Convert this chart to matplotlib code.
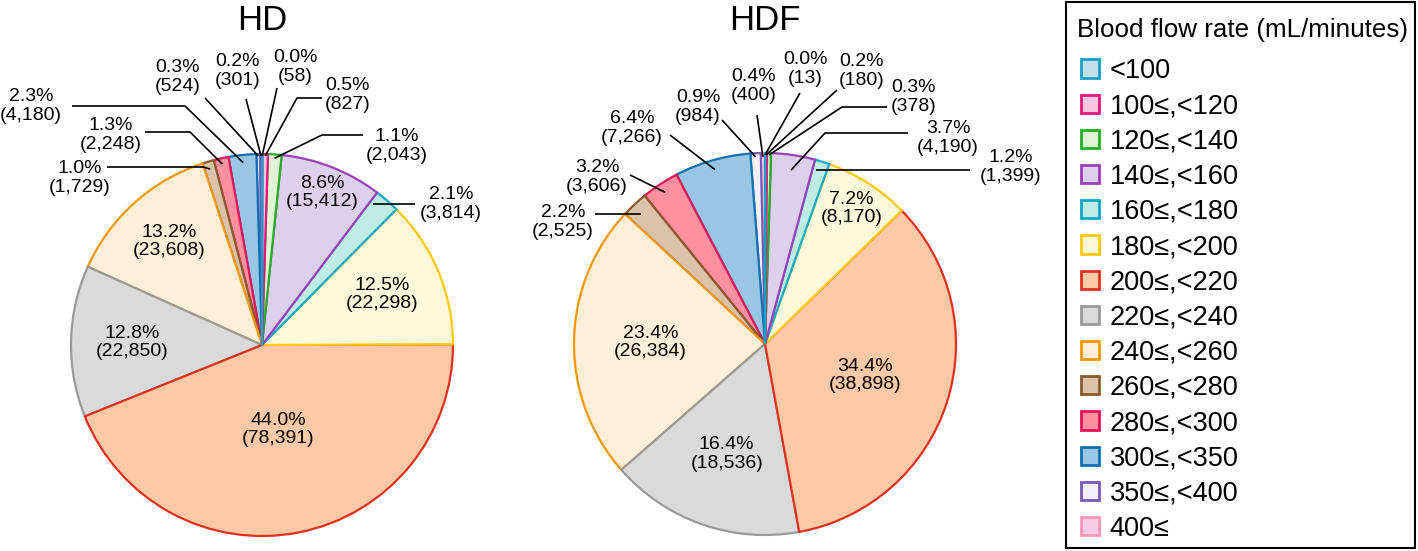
import matplotlib
matplotlib.use("Agg")
import matplotlib.pyplot as plt
from matplotlib.patches import Patch, Rectangle
import numpy as np

# ---------------- data ----------------
categories = ["<100", "100≤,<120", "120≤,<140", "140≤,<160", "160≤,<180",
              "180≤,<200", "200≤,<220", "220≤,<240", "240≤,<260", "260≤,<280",
              "280≤,<300", "300≤,<350", "350≤,<400", "400≤"]
hd_counts = [58, 827, 2043, 15412, 3814, 22298, 78391, 22850, 23608, 1729,
             2248, 4180, 524, 301]
hdf_counts = [13, 180, 378, 4190, 1399, 8170, 38898, 18536, 26384, 2525,
              3606, 7266, 984, 400]
pie_titles = ["HD", "HDF"]
legend_title = "Blood flow rate (mL/minutes)"

# ---------------- style ----------------
face_colors = ["#c2dfea", "#f7c6df", "#e0f5d5", "#ddd0ee", "#c0ece6",
               "#fff9dc", "#ffc8a6", "#dadada", "#ffeed8", "#dcc2aa",
               "#ff90a0", "#98c6e4", "#f2f0fa", "#f8cce2"]
edge_colors = ["#1aa0c8", "#e8147c", "#22b022", "#9a40b8", "#10a8c8",
               "#ffc800", "#e03020", "#9a9a9a", "#f59800", "#8a5a2c",
               "#e8145a", "#1070b0", "#7858b8", "#f598b8"]

W, H = 1418, 551
FONT = "Liberation Sans"
plt.rcParams['font.family'] = [FONT, 'DejaVu Sans']
LABEL_FS = 14

# layout (pixel coordinates, y downward); per slice:
# ('in', radius_fraction) or ('out', text_xy, line_start, elbow_or_None, end_fraction, horizontal)
hd_layout = dict(center=(262, 345), radius=191, title_y=21, labels=[
    ('out', (295, 67), (277, 88), None, 0.99, False),
    ('out', (348, 95), (322, 98), (297, 98), 0.99, False),
    ('out', (397, 146), (363, 135), (322, 135), 0.98, False),
    ('in', 0.86),
    ('out', (451, 204), (415, 204), None, 0.94, True),
    ('in', 0.68),
    ('in', 0.45),
    ('in', 0.68),
    ('in', 0.73),
    ('out', (80, 178), (107, 167), (203, 167), 0.96, False),
    ('out', (111, 135), (145, 132), (190, 132), 0.97, False),
    ('out', (31, 106), (72, 106), (185, 106), 0.96, False),
    ('out', (178, 77), (205, 98), None, 0.99, False),
    ('out', (238, 71), (246, 99), None, 0.99, False),
])
hdf_layout = dict(center=(765, 344), radius=191, title_y=21, labels=[
    ('out', (805, 69), (800, 93), None, 0.99, False),
    ('out', (862, 71), (837, 90), None, 0.99, False),
    ('out', (914, 97), (887, 107), (842, 107), 0.99, False),
    ('out', (948, 138), (908, 133), (825, 133), 0.92, False),
    ('out', (1011, 167), (970, 170), None, 0.95, True),
    ('in', 0.84),
    ('in', 0.55),
    ('in', 0.61),
    ('in', 0.60),
    ('out', (563, 222), (595, 214), None, 0.94, True),
    ('out', (597, 177), (630, 175), None, 0.95, False),
    ('out', (632, 128), (670, 135), None, 0.95, False),
    ('out', (698, 107), (722, 120), None, 0.98, False),
    ('out', (754, 86), (757, 115), None, 0.98, False),
])
legend_box = dict(x0=1066, y0=2, x1=1415, y1=548, title_xy=(1077, 30),
                  entries_top=(1081, 58))

fig = plt.figure(figsize=(W / 100, H / 100), dpi=100)
ax = fig.add_axes([0, 0, 1, 1])


def py(y):
    return H - y


def draw_pie(counts, layout, title):
    cx, cy = layout['center']
    R = layout['radius']
    wedges, _ = ax.pie(counts, colors=face_colors, startangle=90,
                       counterclock=False, center=(cx, py(cy)), radius=R,
                       frame=True, wedgeprops=dict(linewidth=1.6))
    n = len(wedges)
    for i, (w, ec) in enumerate(zip(wedges, edge_colors)):
        w.set_edgecolor(ec)
        w.set_zorder(1 + (n - i) / 100.0)  # earlier slices' edges on top
    total = float(sum(counts))
    fr = np.array(counts) / total
    cum = np.concatenate([[0], np.cumsum(fr)[:-1]])
    mids = np.radians(360 * (cum + fr / 2))
    for i, (c, f) in enumerate(zip(counts, fr)):
        txt = f"{100 * f:.1f}%\n({c:,})"
        spec = layout['labels'][i]
        if spec[0] == 'in':
            r = spec[1] * R
            x = cx + r * np.sin(mids[i])
            y = py(cy) + r * np.cos(mids[i])
            ax.text(x, y, txt, ha='center', va='center', fontsize=LABEL_FS,
                    linespacing=1.08, zorder=4)
        else:
            _, (tx, ty), (sx, sy), elbow, ef, horiz = spec
            ax.text(tx, py(ty), txt, ha='center', va='center',
                    fontsize=LABEL_FS, linespacing=1.08, zorder=4)
            rr = ef * R
            if horiz:
                dy = cy - sy
                dx = np.sqrt(max(rr ** 2 - dy ** 2, 0))
                ex = cx + np.sign(np.sin(mids[i])) * dx
                ey = py(sy)
            else:
                ex = cx + rr * np.sin(mids[i])
                ey = py(cy) + rr * np.cos(mids[i])
            xs = [sx]
            ys = [py(sy)]
            if elbow is not None:
                xs.append(elbow[0])
                ys.append(py(elbow[1]))
            xs.append(ex)
            ys.append(ey)
            ax.plot(xs, ys, color='black', lw=1.2, solid_capstyle='butt',
                    zorder=3)
    ax.text(cx, py(layout['title_y']), title, ha='center', va='center',
            fontsize=25)


draw_pie(hd_counts, hd_layout, pie_titles[0])
draw_pie(hdf_counts, hdf_layout, pie_titles[1])

ax.set_xlim(0, W)
ax.set_ylim(0, H)
ax.set_aspect('equal')
ax.axis('off')

# legend frame + title
lb = legend_box
ax.add_patch(Rectangle((lb['x0'], py(lb['y1'])), lb['x1'] - lb['x0'],
                       lb['y1'] - lb['y0'], facecolor='white',
                       edgecolor='black', linewidth=1.5, zorder=5))
ax.text(lb['title_xy'][0], py(lb['title_xy'][1]), legend_title, ha='left',
        va='center', fontsize=18.7, zorder=6)

handles = [Patch(facecolor=fc, edgecolor=ec, linewidth=2.0)
           for fc, ec in zip(face_colors, edge_colors)]
leg = fig.legend(handles, categories, loc='upper left',
                 bbox_to_anchor=(lb['entries_top'][0] / W,
                                 1 - lb['entries_top'][1] / H),
                 bbox_transform=fig.transFigure, fontsize=19.5,
                 frameon=False, borderaxespad=0, borderpad=0,
                 handlelength=0.66, handleheight=0.66, handletextpad=0.4,
                 labelspacing=0.34)
leg.set_zorder(7)

fig.savefig("out.png", dpi=100)
